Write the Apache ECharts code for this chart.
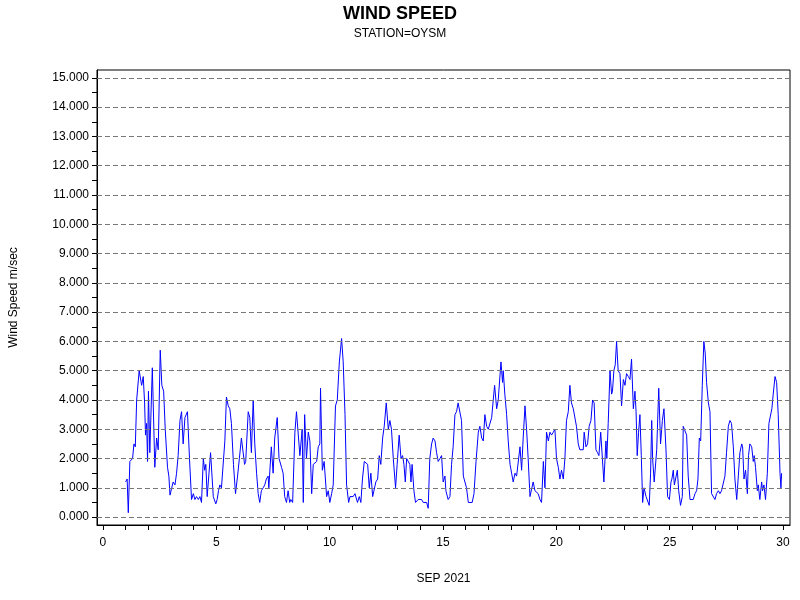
<!DOCTYPE html><html><head><meta charset="utf-8"><script src="https://cdn.jsdelivr.net/npm/echarts@6/dist/echarts.min.js"></script></head><body style="margin:0"><div id="c" style="width:800px;height:600px"></div><script>
const days=[1.0,1.07,1.12,1.19,1.31,1.37,1.43,1.49,1.60,1.71,1.78,1.84,1.88,1.93,1.97,2.01,2.07,2.18,2.29,2.37,2.44,2.53,2.60,2.68,2.75,2.85,2.91,2.96,3.03,3.10,3.18,3.25,3.32,3.40,3.47,3.54,3.62,3.73,3.82,3.91,3.99,4.06,4.13,4.21,4.28,4.35,4.43,4.49,4.54,4.60,4.68,4.75,4.87,4.93,4.98,5.04,5.10,5.16,5.23,5.38,5.45,5.53,5.60,5.67,5.76,5.85,5.94,6.02,6.11,6.19,6.25,6.30,6.41,6.48,6.55,6.63,6.70,6.78,6.85,6.92,6.99,7.07,7.14,7.21,7.29,7.32,7.43,7.51,7.58,7.63,7.69,7.77,7.88,7.95,8.02,8.10,8.17,8.24,8.29,8.37,8.47,8.54,8.62,8.69,8.79,8.84,8.90,8.98,9.06,9.13,9.21,9.28,9.35,9.43,9.50,9.57,9.60,9.68,9.76,9.87,9.94,10.01,10.09,10.16,10.26,10.34,10.43,10.53,10.60,10.68,10.75,10.84,10.90,10.97,11.04,11.12,11.19,11.23,11.31,11.38,11.45,11.53,11.60,11.68,11.75,11.82,11.90,11.97,12.04,12.12,12.19,12.26,12.34,12.41,12.50,12.59,12.66,12.73,12.81,12.91,12.98,13.07,13.15,13.22,13.28,13.34,13.40,13.47,13.54,13.59,13.64,13.72,13.79,13.91,14.06,14.13,14.21,14.28,14.35,14.42,14.50,14.57,14.65,14.72,14.79,14.87,14.94,15.01,15.09,15.13,15.23,15.31,15.38,15.45,15.53,15.60,15.67,15.75,15.82,15.90,15.97,16.04,16.12,16.19,16.29,16.37,16.46,16.56,16.63,16.71,16.78,16.85,16.93,17.00,17.07,17.15,17.22,17.28,17.37,17.44,17.51,17.56,17.63,17.66,17.73,17.81,17.88,17.96,18.03,18.10,18.18,18.25,18.32,18.40,18.47,18.54,18.62,18.69,18.76,18.84,18.91,18.98,19.06,19.13,19.20,19.28,19.35,19.43,19.50,19.57,19.65,19.72,19.79,19.87,19.94,20.01,20.09,20.16,20.23,20.31,20.38,20.45,20.53,20.60,20.67,20.75,20.82,20.89,20.97,21.04,21.12,21.19,21.23,21.31,21.38,21.45,21.53,21.60,21.67,21.75,21.82,21.88,21.96,22.03,22.10,22.19,22.23,22.29,22.37,22.44,22.48,22.54,22.60,22.66,22.73,22.81,22.88,22.96,23.03,23.10,23.18,23.25,23.32,23.40,23.47,23.52,23.57,23.63,23.69,23.75,23.81,23.87,23.96,24.03,24.10,24.16,24.21,24.25,24.32,24.43,24.52,24.60,24.68,24.75,24.84,24.91,24.99,25.06,25.10,25.16,25.21,25.28,25.34,25.40,25.48,25.56,25.60,25.68,25.75,25.82,25.90,25.97,26.04,26.12,26.19,26.25,26.31,26.37,26.44,26.51,26.57,26.63,26.71,26.78,26.85,26.93,27.00,27.07,27.15,27.22,27.29,27.37,27.44,27.51,27.59,27.66,27.73,27.81,27.88,27.96,28.03,28.10,28.18,28.22,28.28,28.35,28.43,28.48,28.54,28.62,28.69,28.73,28.79,28.87,28.91,28.98,29.06,29.10,29.16,29.23,29.31,29.38,29.45,29.51,29.57,29.65,29.72,29.79,29.87,29.91,29.94];
const speeds=[1.2,1.3,0.15,1.9,2.0,2.5,2.4,4.0,5.0,4.5,4.8,3.9,2.8,3.2,1.9,4.3,2.2,5.1,1.7,2.7,2.3,5.7,4.5,4.3,3.0,1.7,1.4,0.75,0.8,1.2,1.1,1.5,2.1,3.3,3.6,2.5,3.4,3.6,2.0,0.6,0.8,0.6,0.7,0.6,0.7,0.5,2.0,1.6,1.8,0.7,1.5,2.2,0.7,0.7,0.45,0.6,0.9,1.1,1.0,2.6,4.1,3.8,3.7,3.2,1.8,0.8,1.4,2.0,2.7,2.7,1.8,1.9,3.6,3.4,2.2,4.0,2.5,1.5,0.8,0.5,0.9,1.0,1.1,1.3,1.4,1.0,2.4,1.5,2.7,2.7,3.4,2.0,1.7,1.5,0.7,0.5,0.9,0.5,0.6,0.5,2.9,3.6,3.6,2.1,3.0,0.5,3.5,2.0,2.9,2.6,0.8,1.8,1.8,1.9,2.4,2.5,4.4,1.6,1.9,0.7,0.9,0.5,0.8,1.1,3.8,4.0,5.3,6.1,5.3,3.5,1.1,0.5,0.7,0.7,0.7,0.8,0.8,0.5,0.7,0.5,1.3,1.9,1.9,1.8,1.0,1.5,0.7,0.7,1.2,1.3,2.1,1.8,2.7,3.1,3.9,3.0,3.3,3.0,2.0,1.0,1.8,2.8,2.0,2.1,1.8,1.2,2.0,2.0,1.8,1.2,1.8,0.9,0.5,0.6,0.6,0.5,0.5,0.5,0.3,2.0,2.5,2.7,2.6,2.2,1.9,2.0,2.1,1.2,1.4,0.9,0.6,0.7,1.8,2.4,3.5,3.6,3.9,3.9,3.3,1.4,1.4,1.0,0.5,0.5,0.5,0.8,1.9,2.9,3.1,2.7,2.6,3.5,3.1,3.0,3.0,3.4,4.0,4.5,3.7,4.0,4.0,5.3,4.6,5.0,4.2,3.5,2.6,1.8,1.5,1.2,1.5,1.4,1.4,2.4,1.6,2.7,3.8,3.0,2.0,0.7,0.7,1.2,0.9,0.9,0.8,0.6,0.5,1.9,1.0,2.9,2.6,2.9,2.8,2.9,3.0,2.0,1.7,1.3,1.6,1.3,2.0,3.3,3.6,4.5,3.9,3.7,3.7,3.1,2.5,2.3,2.3,2.3,2.9,2.4,2.5,3.1,3.3,4.0,3.9,2.3,2.2,2.1,2.9,2.9,1.2,2.6,2.0,3.2,5.0,4.2,4.3,5.0,5.2,6.0,5.0,4.9,3.8,4.7,4.5,4.9,4.8,4.7,5.4,3.7,4.3,3.6,2.1,2.9,3.5,2.1,0.5,1.0,0.7,0.7,0.4,1.5,3.3,2.0,1.2,2.3,4.4,2.5,3.3,3.7,2.3,0.7,0.6,1.2,1.3,1.6,1.1,1.1,1.6,0.9,0.4,0.7,3.1,3.1,2.8,1.4,0.6,0.6,0.6,0.8,0.9,1.3,2.7,2.6,4.5,6.0,5.6,4.6,3.9,3.6,0.8,0.8,0.6,0.8,0.9,0.8,0.9,0.9,1.4,2.2,3.1,3.3,3.2,2.4,1.3,0.6,1.4,2.2,2.5,2.4,1.3,1.6,0.8,2.1,2.5,2.4,1.9,2.1,1.7,0.9,1.1,0.6,1.2,0.9,1.1,0.6,1.5,3.2,3.2,3.7,4.2,4.8,4.6,3.5,1.5,1.0,1.5,1.0];
const xTicks=[0,5,10,15,20,25,30];
const yTicks=[0,1,2,3,4,5,6,7,8,9,10,11,12,13,14,15];
const data=days.map((d,i)=>[d,speeds[i]]);
const ch=echarts.init(document.getElementById('c'));
const F='Liberation Sans, Arial, sans-serif';
ch.setOption({
 animation:false,
 title:{text:'WIND SPEED',subtext:'STATION=OYSM',left:'center',top:0,itemGap:5,
  textStyle:{fontFamily:F,fontSize:18,fontWeight:'bold',color:'#000'},
  subtextStyle:{fontFamily:F,fontSize:12,color:'#000'}},
 grid:{left:97,right:10,top:70,bottom:75,show:true,borderColor:'#000',borderWidth:1},
 xAxis:{type:'value',min:-0.26,max:30.31,name:'SEP 2021',nameLocation:'middle',nameGap:48,
  nameTextStyle:{fontFamily:F,fontSize:12,color:'#000'},
  axisLine:{onZero:false,lineStyle:{color:'#000'}},splitLine:{show:false},
  axisTick:{customValues:[0,1,2,3,4,5,6,7,8,9,10,11,12,13,14,15,16,17,18,19,20,21,22,23,24,25,26,27,28,29,30],length:5,lineStyle:{color:'#000'}},
  axisLabel:{customValues:xTicks,fontFamily:F,fontSize:12,color:'#000',margin:12}},
 yAxis:{type:'value',min:-0.27,max:15.27,name:'Wind Speed m/sec',nameLocation:'middle',nameGap:77,
  nameTextStyle:{fontFamily:F,fontSize:12,color:'#000'},
  axisLine:{onZero:false,lineStyle:{color:'#000'}},
  axisTick:{customValues:yTicks.flatMap(v=>v<15?[v,v+0.5]:[v]),length:5,lineStyle:{color:'#000'}},
  axisLabel:{customValues:yTicks,formatter:v=>v.toFixed(3),fontFamily:F,fontSize:12,color:'#000'},
  splitLine:{show:false}},
 series:[{type:'line',data:data,showSymbol:false,lineStyle:{color:'#0000ff',width:1},
  markLine:{silent:true,symbol:'none',label:{show:false},lineStyle:{color:'#777',type:[5,3],width:1},
   data:yTicks.map(v=>({yAxis:v}))}}]
});
</script></body></html>
